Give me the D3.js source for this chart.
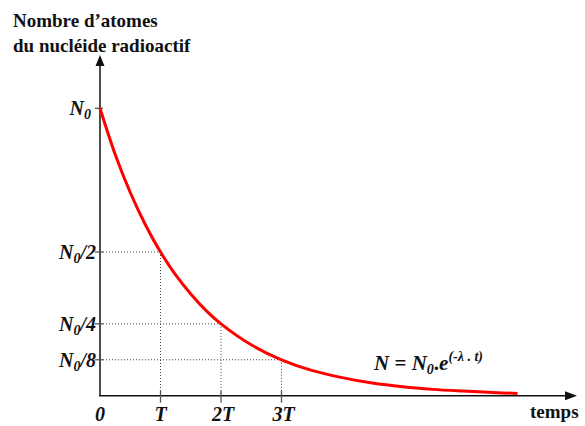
<!DOCTYPE html>
<html>
<head>
<meta charset="utf-8">
<script src="https://cdn.jsdelivr.net/npm/d3@7"></script>
<style>
  html, body { margin: 0; padding: 0; background: #fff; }
</style>
</head>
<body>
<svg id="chart" width="585" height="426"></svg>
<script>
// Radioactive decay: number of nuclei vs time, in units of the half-life T
const timeTicks = [0, 1, 2, 3];
const timeLabels = ["0", "T", "2T", "3T"];
const levelTicks = [1, 0.5, 0.25, 0.125];
const levelDenoms = ["", "/2", "/4", "/8"];

// decay curve samples: t in half-lives, N as a fraction of N0
const curveT = [0, 0.25, 0.5, 0.75, 1, 1.25, 1.5, 1.75, 2, 2.5, 3, 3.5, 4, 4.5, 5, 5.5, 6, 6.5, 6.9];
const curveN = [1, 0.84, 0.707, 0.595, 0.5, 0.42, 0.354, 0.297, 0.25, 0.177, 0.125, 0.088, 0.063, 0.044, 0.031, 0.022, 0.016, 0.011, 0.008];

const serif = "'Liberation Serif', 'Times New Roman', Tinos, serif";
const svg = d3.select("#chart").style("font-family", serif);

const x = d3.scaleLinear().domain([0, 1]).range([100, 160.5]);
const y = d3.scaleLinear().domain([0, 1]).range([395.7, 108.3]);

const x0 = x(0), y0 = y(0);

// title
const title = svg.append("text")
  .attr("x", 13).attr("y", 27)
  .attr("font-size", 19).attr("font-weight", "bold").attr("fill", "#111");
title.append("tspan").attr("x", 13).text("Nombre d\u2019atomes");
title.append("tspan").attr("x", 13).attr("dy", 25).text("du nucléide radioactif");

// guide lines from each half-life point to both axes
const guides = svg.append("g")
  .attr("stroke", "#444").attr("stroke-width", 1).attr("stroke-dasharray", "1,2").attr("fill", "none");
timeTicks.slice(1).forEach((t, i) => {
  const v = levelTicks[i + 1];
  guides.append("line").attr("x1", x0).attr("x2", x(t)).attr("y1", y(v)).attr("y2", y(v));
  guides.append("line").attr("x1", x(t)).attr("x2", x(t)).attr("y1", y(v)).attr("y2", y0);
});

// axes
svg.append("line").attr("x1", x0).attr("x2", x0).attr("y1", y0).attr("y2", 64)
  .attr("stroke", "#111").attr("stroke-width", 1.5);
svg.append("path").attr("d", `M${x0},55 L${x0 - 4.5},66 L${x0 + 4.5},66 Z`).attr("fill", "#111");
svg.append("line").attr("x1", x0 - 1).attr("x2", 566).attr("y1", y0).attr("y2", y0)
  .attr("stroke", "#111").attr("stroke-width", 1.5);
svg.append("path").attr("d", `M577,${y0} L565,${y0 - 4.5} L565,${y0 + 4.5} Z`).attr("fill", "#111");

// tick marks
svg.append("g").selectAll("line").data(levelTicks).join("line")
  .attr("x1", x0 - 5).attr("x2", x0 + 3).attr("y1", d => y(d)).attr("y2", d => y(d))
  .attr("stroke", "#555").attr("stroke-width", 1.3);
svg.append("g").selectAll("line").data(timeTicks.slice(1)).join("line")
  .attr("x1", d => x(d)).attr("x2", d => x(d)).attr("y1", y0 - 5).attr("y2", y0 + 7)
  .attr("stroke", "#555").attr("stroke-width", 1.3);

// level labels N0, N0/2, ...
const yl = svg.append("g").attr("font-size", 20).attr("font-style", "italic").attr("font-weight", "bold").attr("fill", "#111");
levelTicks.forEach((v, i) => {
  const t = yl.append("text").attr("x", i === 0 ? 91 : 96).attr("y", y(v) + 7).attr("text-anchor", "end");
  t.append("tspan").text("N");
  t.append("tspan").attr("font-size", 14).attr("dy", 4).text("0");
  if (levelDenoms[i]) t.append("tspan").attr("dy", -4).text(levelDenoms[i]);
});

// time labels
svg.append("g").selectAll("text").data(timeTicks).join("text")
  .attr("x", (d, i) => x(d) + (i > 1 ? 2 : 0)).attr("y", 421).attr("text-anchor", "middle")
  .attr("font-size", 20).attr("font-style", "italic").attr("font-weight", "bold").attr("fill", "#111")
  .text((d, i) => timeLabels[i]);

svg.append("text").attr("x", 530).attr("y", 418)
  .attr("font-size", 19).attr("font-weight", "bold").attr("fill", "#111").text("temps");

// decay curve
const pts = curveT.map((t, i) => [t, curveN[i]]);
svg.append("path").datum(pts)
  .attr("d", d3.line().x(d => x(d[0])).y(d => y(d[1])).curve(d3.curveCatmullRom.alpha(0.5)))
  .attr("fill", "none").attr("stroke", "#ff0000").attr("stroke-width", 3);

// formula
const f = svg.append("text").attr("x", 374).attr("y", 370)
  .attr("font-size", 21).attr("font-weight", "bold").attr("fill", "#111");
f.append("tspan").attr("font-style", "italic").text("N");
f.append("tspan").text(" = ");
f.append("tspan").attr("font-style", "italic").text("N");
f.append("tspan").attr("font-style", "italic").attr("font-size", 14).attr("dy", 4).text("0");
f.append("tspan").attr("dy", -4).text(".");
f.append("tspan").attr("font-style", "italic").text("e");
f.append("tspan").attr("font-style", "italic").attr("font-size", 14).attr("dy", -9).text("(-\u03bb . t)");
</script>
</body>
</html>
